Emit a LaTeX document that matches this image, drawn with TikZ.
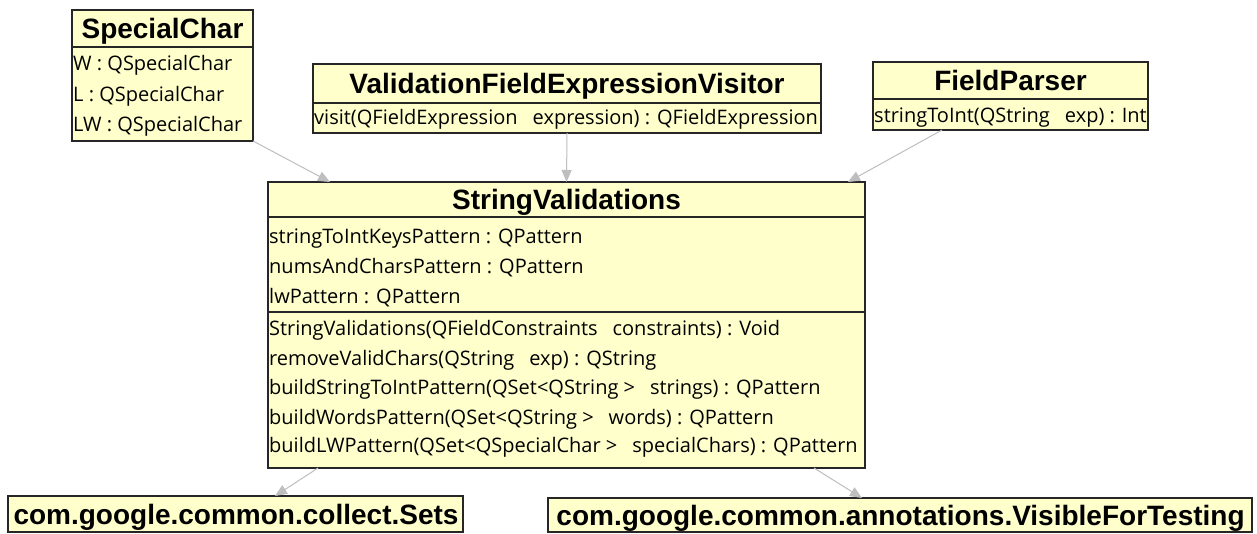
\documentclass[tikz,border=0pt]{standalone}
\usepackage{fontspec}
\setmainfont{Open Sans}
\newfontfamily\ttlfont{Liberation Sans}
\usetikzlibrary{arrows.meta}
\definecolor{boxfill}{RGB}{255,255,204}
\definecolor{depc}{RGB}{190,190,190}
\newcommand{\dblsp}{\hspace{15pt}}
\tikzset{
 cls/.style={draw=black!85, line width=1.5pt, fill=boxfill, anchor=north west, inner sep=0pt, outer sep=0pt},
 ttl/.style={font=\ttlfont\bfseries\fontsize{28}{30}\selectfont, inner sep=0pt, anchor=base},
 mem/.style={font=\fontsize{20}{22}\selectfont, inner sep=0pt, anchor=base west},
 tsep/.style={draw=black!85, line width=2.2pt},
 msep/.style={draw=black!85, line width=1.2pt},
 depl/.style={draw=depc, line width=1pt, -{Triangle[length=12pt,width=10pt,fill=depc]}},
}
\begin{document}
\begin{tikzpicture}[x=1pt,y=-1pt]
\useasboundingbox[fill=white] (0,0) rectangle (1257,534);
% SpecialChar
\node[cls, minimum width=181pt, minimum height=131pt] (sc) at (72,10) {};
\node[ttl] (sct) at (162.5,38.5) {SpecialChar};
\draw[tsep] (72,47) -- (253,47);
\node[mem] (sc1) at (73,71) {W : QSpecialChar};
\node[mem] (sc2) at (73,101.5) {L : QSpecialChar};
\node[mem] (sc3) at (73,132) {LW : QSpecialChar};
% ValidationFieldExpressionVisitor
\node[cls, minimum width=508pt, minimum height=69pt] (vfev) at (313,64) {};
\node[ttl] (vfevt) at (567,93.5) {ValidationFieldExpressionVisitor};
\draw[tsep] (313,103) -- (821,103);
\node[mem] (vfev1) at (314,125) {visit(QFieldExpression\dblsp expression) : QFieldExpression};
% FieldParser
\node[cls, minimum width=275pt, minimum height=68pt] (fp) at (873,62) {};
\node[ttl] (fpt) at (1010.5,90.5) {FieldParser};
\draw[tsep] (873,99) -- (1148,99);
\node[mem] (fp1) at (874,123) {stringToInt(QString\dblsp exp) : Int};
% StringValidations
\node[cls, minimum width=597pt, minimum height=286pt] (sv) at (268,182) {};
\node[ttl] (svt) at (566.5,209.5) {StringValidations};
\draw[tsep] (268,217) -- (865,217);
\node[mem] (sva1) at (269,244) {stringToIntKeysPattern : QPattern};
\node[mem] (sva2) at (269,274) {numsAndCharsPattern : QPattern};
\node[mem] (sva3) at (269,304) {lwPattern : QPattern};
\draw[msep] (268,312) -- (865,312);
\node[mem] (svm1) at (269,335) {StringValidations(QFieldConstraints\dblsp constraints) : Void};
\node[mem] (svm2) at (269,365) {removeValidChars(QString\dblsp exp) : QString};
\node[mem] (svm3) at (269,394) {buildStringToIntPattern(QSet<QString >\dblsp strings) : QPattern};
\node[mem] (svm4) at (269,424) {buildWordsPattern(QSet<QString >\dblsp words) : QPattern};
\node[mem] (svm5) at (269,452) {buildLWPattern(QSet<QSpecialChar >\dblsp specialChars) : QPattern};
% packages
\node[cls, minimum width=455pt, minimum height=36pt] (sets) at (8,496) {};
\node[ttl] (setst) at (236,524) {com.google.common.collect.Sets};
\node[cls, minimum width=704pt, minimum height=34pt] (vft) at (548,498) {};
\node[ttl] (vftt) at (900.5,525) {com.google.common.annotations.VisibleForTesting};
% dependencies
\draw[depl] (sc.south east) -- ([xshift=62pt]sv.north west);
\draw[depl] (vfev.south) -- (sv.north);
\draw[depl] ([xshift=69pt]fp.south west) -- ([xshift=-17pt]sv.north east);
\draw[depl] ([xshift=50pt]sv.south west) -- ([xshift=267pt]sets.north west);
\draw[depl] ([xshift=-51pt]sv.south east) -- ([xshift=314pt]vft.north west);
\end{tikzpicture}
\end{document}
